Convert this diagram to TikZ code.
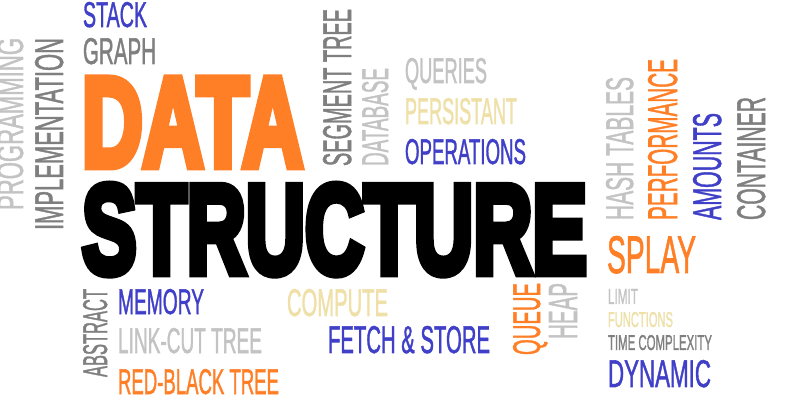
\documentclass[tikz,border=0pt]{standalone}
\usepackage{fontspec}
\usepackage{graphicx}
\setmainfont{Liberation Sans}
\newfontfamily\wordfont[FakeBold=1.6]{Liberation Sans}
\newfontfamily\heavyfont[FakeBold=7]{Liberation Sans Bold}
\newcommand{\fitw}[3]{\resizebox{#1pt}{#2pt}{#3}}
\definecolor{cblue}{HTML}{3F3FC8}
\definecolor{cdgray}{HTML}{7F7F7F}
\definecolor{clgray}{HTML}{C3C3C3}
\definecolor{cbeige}{HTML}{EFE0A8}
\definecolor{corange}{HTML}{FF7F27}
\tikzset{
  word/.style={inner sep=0pt, outer sep=0pt, anchor=base west, font=\wordfont},
  bigword/.style={word, font=\heavyfont},
  vword/.style={word, rotate=90},
}
\begin{document}
\begin{tikzpicture}[x=1pt,y=-1pt]
\useasboundingbox[fill=white] (0,0) rectangle (788,414);
% horizontal words
\node[word, text=cblue]   (stack)  at (83,27)  {\fitw{64}{25}{STACK}};
\node[word, text=cdgray]  (graph)  at (83,64)  {\fitw{73}{26}{GRAPH}};
\node[bigword, text=corange] (data) at (82,166) {\fitw{221}{87}{DATA}};
\node[bigword, text=black] (structure) at (82,273) {\fitw{505}{88}{STRUCTURE}};
\node[word, text=clgray]  (queries) at (405,83) {\fitw{82}{25}{QUERIES}};
\node[word, text=cbeige]  (persistant) at (405,124) {\fitw{112}{26}{PERSISTANT}};
\node[word, text=cblue]   (operations) at (405,164) {\fitw{121}{25}{OPERATIONS}};
\node[word, text=corange] (splay)  at (607,273) {\fitw{89}{37}{SPLAY}};
\node[word, text=cblue]   (memory) at (118,314) {\fitw{86}{25}{MEMORY}};
\node[word, text=cbeige]  (compute) at (287,316) {\fitw{101}{27}{COMPUTE}};
\node[word, text=clgray]  (linkcut) at (118,353) {\fitw{144}{25}{LINK-CUT TREE}};
\node[word, text=cblue]   (fetch)  at (328,353) {\fitw{162}{27}{FETCH \& STORE}};
\node[word, text=corange] (redblack) at (118,394) {\fitw{161}{25}{RED-BLACK TREE}};
\node[word, text=clgray]  (limit)  at (608,304) {\fitw{30}{15}{LIMIT}};
\node[word, text=cbeige]  (functions) at (608,327) {\fitw{65}{15}{FUNCTIONS}};
\node[word, text=cdgray]  (timecomp) at (608,350) {\fitw{104}{15}{TIME COMPLEXITY}};
\node[word, text=cblue]   (dynamic) at (608,387) {\fitw{103}{27}{DYNAMIC}};
% vertical words
\node[vword, text=clgray]  (programming) at (23,210) {\fitw{172}{26}{PROGRAMMING}};
\node[vword, text=cdgray]  (implementation) at (63,230) {\fitw{192}{28}{IMPLEMENTATION}};
\node[vword, text=cdgray]  (segtree) at (351,166) {\fitw{157}{28}{SEGMENT TREE}};
\node[vword, text=clgray]  (database) at (388,166) {\fitw{98}{26}{DATABASE}};
\node[vword, text=clgray]  (hashtables) at (633,220) {\fitw{143}{27}{HASH TABLES}};
\node[vword, text=corange] (performance) at (677,220) {\fitw{161}{29}{PERFORMANCE}};
\node[vword, text=cblue]   (amounts) at (721,220) {\fitw{107}{28}{AMOUNTS}};
\node[vword, text=cdgray]  (container) at (765,220) {\fitw{123}{28}{CONTAINER}};
\node[vword, text=cdgray]  (abstract) at (107,377) {\fitw{88}{24}{ABSTRACT}};
\node[vword, text=corange] (queue) at (540,355) {\fitw{72}{27}{QUEUE}};
\node[vword, text=clgray]  (heap) at (577,339) {\fitw{56}{28}{HEAP}};
\end{tikzpicture}
\end{document}
